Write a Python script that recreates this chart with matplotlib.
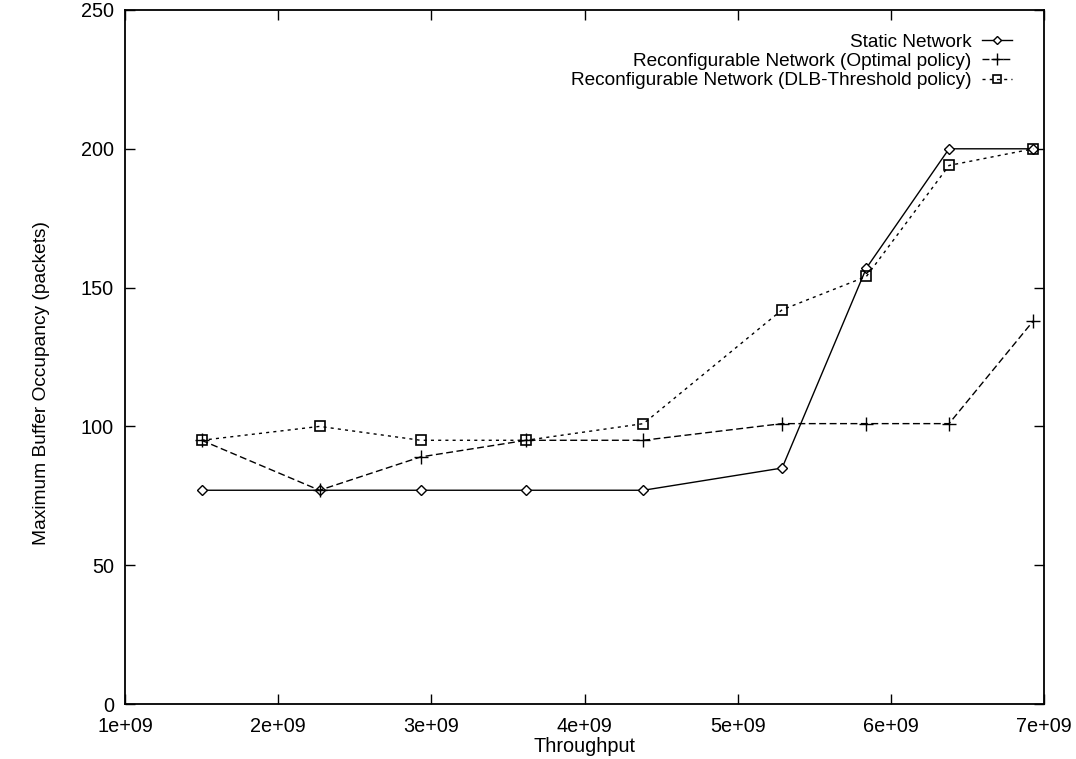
import matplotlib
matplotlib.use("Agg")
import matplotlib.pyplot as plt

# Data
throughput = [1.5e9, 2.27e9, 2.93e9, 3.62e9, 4.385e9, 5.29e9, 5.84e9, 6.38e9, 6.93e9]
static_network = [77, 77, 77, 77, 77, 85, 157, 200, 200]
optimal_policy = [95, 77, 89, 95, 95, 101, 101, 101, 138]
dlb_threshold = [95, 100, 95, 95, 101, 142, 154, 194, 200]

series_labels = ["Static Network",
                 "Reconfigurable Network (Optimal policy)",
                 "Reconfigurable Network (DLB-Threshold policy)"]
x_ticks = [1e9, 2e9, 3e9, 4e9, 5e9, 6e9, 7e9]
x_tick_labels = ["1e+09", "2e+09", "3e+09", "4e+09", "5e+09", "6e+09", "7e+09"]
y_ticks = [0, 50, 100, 150, 200, 250]

plt.rcParams['font.family'] = ['Liberation Sans', 'DejaVu Sans']
FS = 14.3

fig = plt.figure(figsize=(10.76, 7.59), dpi=100)
ax = fig.add_axes([125/1076, 1 - 704/759, (1044-125)/1076, (704-10)/759])

lw = 1.0
ax.plot(throughput, static_network, color='black', linestyle='-', linewidth=lw,
        marker='D', markersize=5, markerfacecolor='white', markeredgecolor='black',
        markeredgewidth=1.0, label=series_labels[0])
ax.plot(throughput, optimal_policy, color='black', linestyle=(0, (5, 2.5)), linewidth=lw,
        marker='+', markersize=10, markeredgewidth=1.0, label=series_labels[1])
ax.plot(throughput, dlb_threshold, color='black', linestyle=(0, (2.2, 3)), linewidth=lw,
        marker='s', markersize=7.5, markerfacecolor='none', markeredgecolor='black',
        markeredgewidth=1.2, label=series_labels[2])

ax.set_xlim(1e9, 7e9)
ax.set_ylim(0, 250)
ax.set_xticks(x_ticks)
ax.set_xticklabels(x_tick_labels)
ax.set_yticks(y_ticks)
ax.tick_params(direction='in', length=7, width=1.0, top=True, right=True,
               labelsize=FS)
ax.tick_params(axis='x', pad=9)
ax.tick_params(axis='y', pad=8)
for s in ax.spines.values():
    s.set_linewidth(1.3)

ax.set_xlabel("Throughput", fontsize=FS, labelpad=1)
ax.set_ylabel("Maximum Buffer Occupancy (packets)", fontsize=13.8)
ax.yaxis.set_label_coords(-(125 - 50) / 919, (704 - 383) / 694)

leg = ax.legend(loc='upper right', frameon=False, markerfirst=False,
                handlelength=1.6, handletextpad=0.55, labelspacing=0.1,
                borderaxespad=0.0, fontsize=13.7,
                bbox_to_anchor=((1016 - 125) / 919 + 0.004, 1 - (26 - 10) / 694))
for h in leg.legend_handles:
    h.set_markersize(h.get_markersize() * 0.85)

fig.savefig("out.png", dpi=100)
